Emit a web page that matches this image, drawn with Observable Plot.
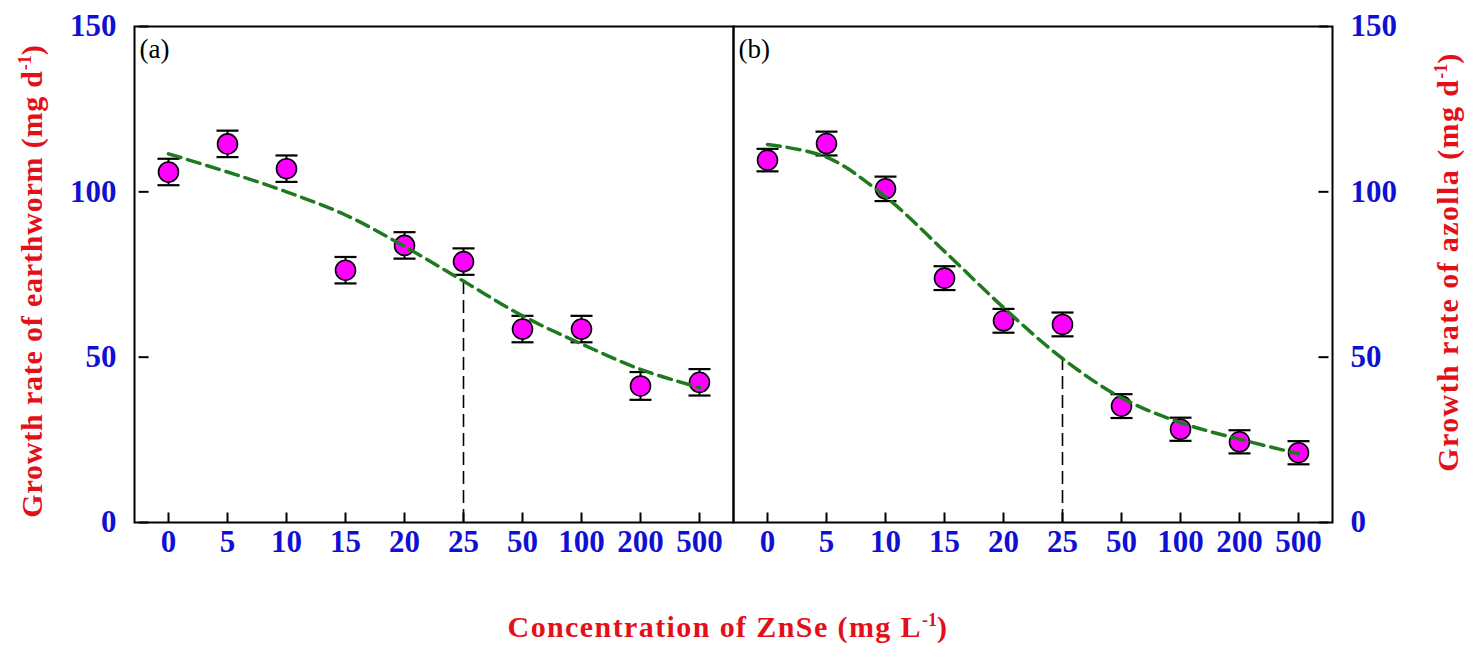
<!DOCTYPE html>
<html>
<head>
<meta charset="utf-8">
<script src="https://cdn.jsdelivr.net/npm/d3@7"></script>
<script src="https://cdn.jsdelivr.net/npm/@observablehq/plot@0.6"></script>
<style>
  html, body { margin: 0; padding: 0; background: #fff; }
  #wrap { position: relative; width: 1476px; height: 657px; font-family: "Liberation Serif", "Times New Roman", serif; }
  #wrap svg { position: absolute; left: 0; top: 0; }
  .title { position: absolute; color: #e3101a; font-weight: bold; font-size: 30px; letter-spacing: 0.8px; white-space: nowrap; line-height: 1; }
  .title sup { font-size: 0.6em; vertical-align: super; line-height: 0; letter-spacing: 0; }
  .rot { transform: translate(-50%, -50%) rotate(-90deg); }
</style>
</head>
<body>
<div id="wrap">
  <div class="title rot" style="left:32px; top:281px;">Growth rate of earthworm (mg d<sup>-1</sup>)</div>
  <div class="title rot" style="left:1448px; top:262px; letter-spacing:1.4px;">Growth rate of azolla (mg d<sup>-1</sup>)</div>
  <div class="title" style="left:728px; top:627px; transform: translate(-50%, -50%); letter-spacing:1.4px;">Concentration of ZnSe (mg L<sup>-1</sup>)</div>
</div>
<script>
// Categories (ZnSe concentration, mg L-1) and panels
const concentrations = ["0", "5", "10", "15", "20", "25", "50", "100", "200", "500"];
const panels = ["a", "b"];
const panelLabels = ["(a)", "(b)"];
const yTicks = [0, 50, 100, 150];

// Panel (a): earthworm growth rate (mg d-1)
const earthwormMean = [106, 114.5, 107, 76.3, 83.8, 78.9, 58.5, 58.5, 41.3, 42.4];
const earthwormErr  = [4, 4, 4, 4, 4, 4, 4, 4, 4.2, 4];
const earthwormFit  = [111.5, 106, 100, 93, 83.5, 73, 62.5, 54, 46.3, 40.8];

// Panel (b): azolla growth rate (mg d-1)
const azollaMean = [109.6, 114.6, 100.9, 73.9, 61, 59.9, 35.2, 28.2, 24.4, 21.1];
const azollaErr  = [3.4, 3.6, 3.7, 3.6, 3.6, 3.6, 3.6, 3.5, 3.5, 3.5];
const azollaFit  = [114.3, 110.5, 98.5, 82, 65, 49.6, 37.7, 30.2, 25.2, 20.8];

// Reference (dashed drop line) at concentration "25"
const refConc = "25";

// Layout
const W = 1476, H = 657, mL = 134, mR = 144, mT = 26, mB = 135;
const halfStep = (W - mL - mR) / panels.length / concentrations.length / 2; // point padding 0.5
const tickLen = 10;

// Build tables
const points = [];
const fits = [];
const xTickRows = [];
concentrations.forEach((c, i) => {
  points.push({panel: "a", conc: c, v: earthwormMean[i], lo: earthwormMean[i] - earthwormErr[i], hi: earthwormMean[i] + earthwormErr[i]});
  points.push({panel: "b", conc: c, v: azollaMean[i], lo: azollaMean[i] - azollaErr[i], hi: azollaMean[i] + azollaErr[i]});
  fits.push({panel: "a", conc: c, v: earthwormFit[i]});
  fits.push({panel: "b", conc: c, v: azollaFit[i]});
  panels.forEach(p => xTickRows.push({panel: p, conc: c, v: yTicks[0]}));
});
const refs = fits.filter(d => d.conc === refConc);
const labels = panels.map((p, i) => ({panel: p, label: panelLabels[i]}));
const leftTicks = yTicks.map(v => ({panel: panels[0], conc: concentrations[0], v}));
const rightTicks = yTicks.map(v => ({panel: panels[1], conc: concentrations[concentrations.length - 1], v}));

const blue = "#1010d4";
const green = "#1f7a1f";
const magenta = "#ff00ff";

// symbols: error-bar caps and inward axis ticks (frame edge is half a step from the outer categories)
const capSymbol = {draw(ctx) { ctx.moveTo(-11, 0); ctx.lineTo(11, 0); }};
const tickUp = {draw(ctx) { ctx.moveTo(0, 0); ctx.lineTo(0, -tickLen); }};
const tickFromLeft = {draw(ctx) { ctx.moveTo(-halfStep, 0); ctx.lineTo(-halfStep + tickLen, 0); }};
const tickFromRight = {draw(ctx) { ctx.moveTo(halfStep, 0); ctx.lineTo(halfStep - tickLen, 0); }};
const tickStyle = {fill: "none", stroke: "black", strokeWidth: 2};

const axisFont = {fontSize: 31, fontWeight: "bold", fill: blue, tickSize: 0, label: null};

const chart = Plot.plot({
  width: W,
  height: H,
  marginLeft: mL,
  marginRight: mR,
  marginTop: mT,
  marginBottom: mB,
  style: {fontFamily: "'Liberation Serif', 'Times New Roman', serif", background: "transparent", overflow: "visible"},
  fx: {domain: panels, padding: 0, axis: null, label: null},
  x: {type: "point", domain: concentrations, padding: 0.5, label: null},
  y: {domain: [0, 150], label: null},
  marks: [
    Plot.frame({stroke: "black", strokeWidth: 2}),
    Plot.dot(xTickRows, {fx: "panel", x: "conc", y: "v", symbol: tickUp, ...tickStyle}),
    Plot.dot(leftTicks, {fx: "panel", x: "conc", y: "v", symbol: tickFromLeft, ...tickStyle}),
    Plot.dot(rightTicks, {fx: "panel", x: "conc", y: "v", symbol: tickFromRight, ...tickStyle}),
    Plot.ruleX(refs, {fx: "panel", x: "conc", y1: 0, y2: "v", stroke: "black", strokeWidth: 1.6, strokeDasharray: "13,6"}),
    Plot.ruleX(points, {fx: "panel", x: "conc", y1: "lo", y2: "hi", stroke: "black", strokeWidth: 2}),
    Plot.dot(points, {fx: "panel", x: "conc", y: "hi", symbol: capSymbol, fill: "none", stroke: "black", strokeWidth: 2.2}),
    Plot.dot(points, {fx: "panel", x: "conc", y: "lo", symbol: capSymbol, fill: "none", stroke: "black", strokeWidth: 2.2}),
    Plot.dot(points, {fx: "panel", x: "conc", y: "v", r: 10, fill: magenta, stroke: "black", strokeWidth: 1.6}),
    Plot.line(fits, {fx: "panel", x: "conc", y: "v", curve: "catmull-rom", stroke: green, strokeWidth: 3.5, strokeDasharray: "13,7"}),
    Plot.text(labels, {fx: "panel", text: "label", frameAnchor: "top-left", textAnchor: "start", lineAnchor: "top", dx: 5, dy: 12, fontSize: 27, fill: "black"}),
    Plot.axisX({anchor: "bottom", tickPadding: 7, ...axisFont}),
    Plot.axisY({anchor: "left", ticks: yTicks, tickPadding: 18, ...axisFont}),
    Plot.axisY({anchor: "right", ticks: yTicks, tickPadding: 18, ...axisFont})
  ]
});
document.getElementById("wrap").prepend(chart);
</script>
</body>
</html>
